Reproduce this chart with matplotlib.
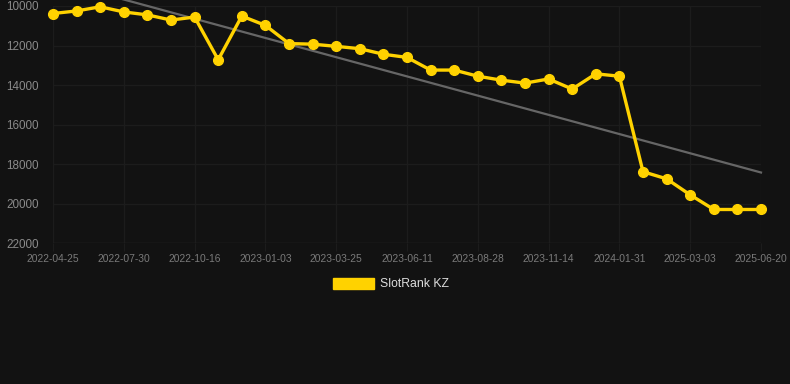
import numpy as np
import matplotlib
matplotlib.use("Agg")
import matplotlib.pyplot as plt
from matplotlib.patches import Patch

# data (rank, lower is better)
dates = ["2022-04-25", "", "", "2022-07-30", "", "", "2022-10-16", "", "",
         "2023-01-03", "", "", "2023-03-25", "", "", "2023-06-11", "", "",
         "2023-08-28", "", "", "2023-11-14", "", "", "2024-01-31", "", "",
         "2025-03-03", "", "", "2025-06-20"]
ranks = [10380, 10250, 10040, 10300, 10450, 10710, 10560, 12720, 10510,
         10980, 11900, 11930, 12040, 12160, 12440, 12600, 13240, 13240,
         13550, 13750, 13900, 13690, 14200, 13430, 13550, 18380, 18740,
         19550, 20290, 20290, 20290]
# trend line end values
trend_start, trend_end = 8700, 18420

bg = "#121212"
gold = "#FFD200"
grid_c = "#1c1c1c"

plt.rcParams['font.family'] = ['Liberation Sans', 'DejaVu Sans']

fig = plt.figure(figsize=(7.9, 3.84), dpi=100, facecolor=bg)
ax = fig.add_axes([53/790, 1-243.3/384, (761-53)/790, (243.3-6)/384])
ax.set_facecolor(bg)

xs = np.arange(len(ranks))
ax.plot([xs[0], xs[-1]], [trend_start, trend_end], color="#666666", lw=1.6,
        clip_on=False, zorder=2)
ax.plot(xs, ranks, color=gold, lw=2.4, marker="o", markersize=7,
        clip_on=False, zorder=3, label="SlotRank KZ")

ax.set_xlim(0, len(ranks) - 1)
ax.set_ylim(22000, 10000)
ax.set_yticks(np.arange(10000, 22001, 2000))
ax.set_xticks(xs[::3])
ax.set_xticklabels([d for d in dates[::3]])

ax.grid(True, color=grid_c, lw=1)
ax.axhline(22000, color="#262626", lw=1, zorder=1)
ax.set_axisbelow(True)
for s in ax.spines.values():
    s.set_visible(False)
ax.tick_params(axis="y", length=0, pad=10, labelsize=8.4, labelcolor="#8a8a8a")
ax.tick_params(axis="x", length=6, color=grid_c, pad=2, labelsize=7.4,
               labelcolor="#7a7a7a")

# legend
leg = fig.legend(handles=[Patch(facecolor=gold, edgecolor=gold)],
                 labels=["SlotRank KZ"], loc="center",
                 bbox_to_anchor=(391/790, 1-284/384), frameon=False,
                 handlelength=3.4, handleheight=1.0, handletextpad=0.5,
                 fontsize=8.8, labelcolor="#dddddd")

fig.savefig("out.png", dpi=100, facecolor=bg)
